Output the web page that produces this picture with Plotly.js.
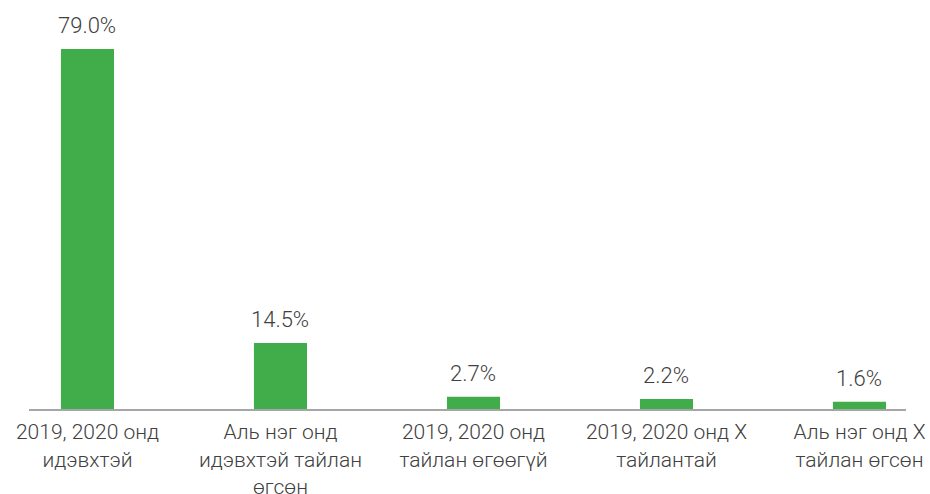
<!DOCTYPE html>
<html>
<head>
<meta charset="utf-8">
<script src="https://cdn.plot.ly/plotly-3.0.1.min.js"></script>
<style>html,body{margin:0;padding:0;background:#fff;}#chart{width:930px;height:494px;}</style>
</head>
<body>
<div id="chart"></div>
<script>
const categories = [
  "2019, 2020 онд<br>идэвхтэй",
  "Аль нэг онд<br>идэвхтэй тайлан<br>өгсөн",
  "2019, 2020 онд<br>тайлан өгөөгүй",
  "2019, 2020 онд Х<br>тайлантай",
  "Аль нэг онд Х<br>тайлан өгсөн"
];
const values = [79.0, 14.5, 2.7, 2.2, 1.6];
const valueLabels = values.map(v => v.toFixed(1) + "%");

const green = "#40ad4a";
const textColor = "#404040";
const fontFamily = "Roboto, 'Open Sans', sans-serif";

const trace = {
  type: "bar",
  x: categories,
  y: values,
  marker: {color: green},
  hoverinfo: "skip"
};

const annotations = categories.map((c, i) => ({
  x: c, y: values[i], xref: "x", yref: "y",
  text: valueLabels[i], showarrow: false,
  yanchor: "bottom", yshift: 9,
  font: {family: fontFamily, size: 22, color: textColor, weight: 300}
}));

const layout = {
  width: 930, height: 494,
  margin: {l: 29, r: 24, t: 10, b: 85},
  paper_bgcolor: "#fff", plot_bgcolor: "#fff",
  showlegend: false,
  bargap: 0.725,
  xaxis: {
    type: "category",
    range: [-0.303, 4.241],
    showline: true, linecolor: "#a6a6a6", linewidth: 2,
    showgrid: false, zeroline: false,
    ticks: "outside", ticklen: 3, tickcolor: "rgba(0,0,0,0)",
    tickfont: {family: fontFamily, size: 21, color: textColor, weight: 300},
    tickangle: 0, fixedrange: true
  },
  yaxis: {
    range: [0, 87.56],
    visible: false, showgrid: false, zeroline: false, fixedrange: true
  },
  annotations: annotations
};

Plotly.newPlot("chart", [trace], layout, {displayModeBar: false, staticPlot: true});
</script>
</body>
</html>
